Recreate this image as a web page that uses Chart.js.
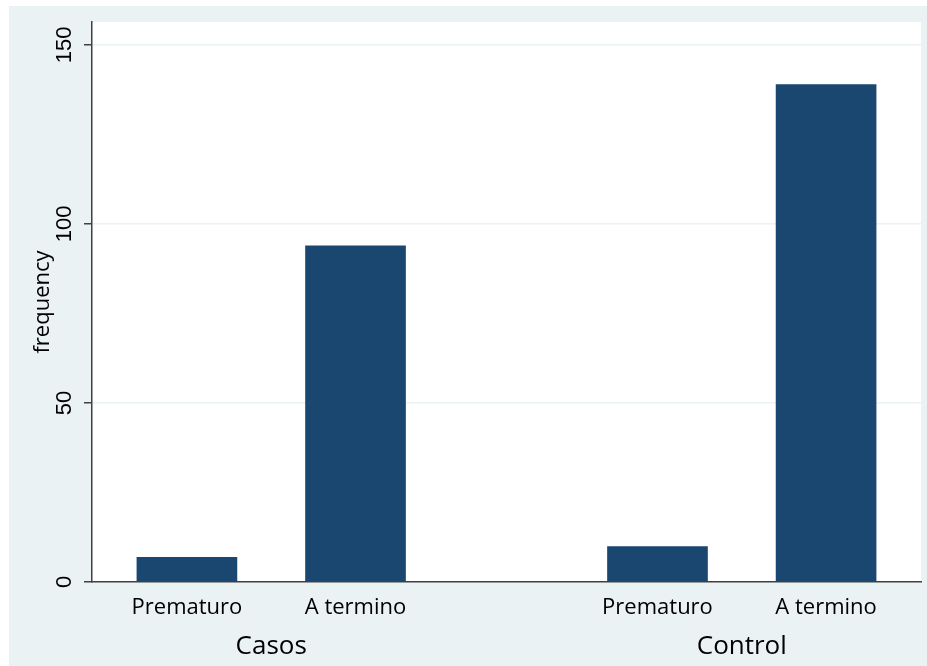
<!DOCTYPE html>
<html>
<head>
<meta charset="utf-8">
<script src="https://cdn.jsdelivr.net/npm/chart.js@4"></script>
<style>
  html, body { margin: 0; padding: 0; background: #ffffff; }
  #wrap { width: 927px; height: 666px; position: relative; }
</style>
</head>
<body>
<div id="wrap"><canvas id="chart" width="927" height="666"></canvas></div>
<script>
// Frequency of term vs preterm births, by study group
const groups = ['Casos', 'Control'];
const categories = ['Prematuro', 'A termino'];
const casosValues = [7, 94];
const controlValues = [10, 139];
const yTicks = [0, 50, 100, 150];
const yTop = 156.4;

// Bar layout, in units of one bar width
const outerGap = 0.443;
const innerGap = 0.675;
const groupGap = 2;

const values = [...casosValues, ...controlValues];
const tickLabels = groups.flatMap(() => categories);

const barPositions = [];
const groupCenters = [];
let cursor = outerGap;
groups.forEach((g, gi) => {
  const first = barPositions.length;
  categories.forEach((c, ci) => {
    barPositions.push(cursor + 0.5);
    cursor += 1 + (ci < categories.length - 1 ? innerGap : 0);
  });
  groupCenters.push((barPositions[first] + barPositions[barPositions.length - 1]) / 2);
  if (gi < groups.length - 1) cursor += groupGap;
});
const xMax = cursor + outerGap;

const NAVY = '#1a476f';
const REGION = '#eaf2f3';
const AXIS = '#404040';

// Grey outer region with a white plot area
const backdrop = {
  id: 'backdrop',
  beforeDraw(chart) {
    const { ctx, chartArea: a, width, height } = chart;
    ctx.save();
    ctx.fillStyle = '#ffffff';
    ctx.fillRect(0, 0, width, height);
    ctx.fillStyle = REGION;
    ctx.fillRect(9, 6, width - 9, height - 6);
    ctx.fillStyle = '#ffffff';
    ctx.fillRect(a.left, a.top, a.right - a.left, a.bottom - a.top);
    ctx.restore();
  }
};

Chart.defaults.font.family = "'Open Sans', 'Liberation Sans', Arial, sans-serif";
Chart.defaults.color = '#000000';

new Chart(document.getElementById('chart'), {
  type: 'bar',
  data: {
    datasets: [{
      data: barPositions.map((x, i) => ({ x, y: values[i] })),
      backgroundColor: NAVY,
      borderWidth: 0,
      barPercentage: 1 / (1 + innerGap),
      categoryPercentage: 1
    }]
  },
  options: {
    responsive: false,
    animation: false,
    events: [],
    layout: { padding: { top: 22, right: 6, bottom: 0, left: 0 } },
    plugins: { legend: { display: false }, tooltip: { enabled: false } },
    scales: {
      x: {
        type: 'linear',
        position: 'bottom',
        weight: 0,
        min: 0,
        max: xMax,
        offset: false,
        grid: { display: false },
        border: { display: true, color: AXIS, width: 1.5 },
        ticks: {
          autoSkip: false,
          maxRotation: 0,
          minRotation: 0,
          padding: 5,
          font: { size: 22 },
          callback: (v, i) => tickLabels[i]
        },
        afterBuildTicks: s => { s.ticks = barPositions.map(v => ({ value: v })); },
        afterFit: s => { s.height = 40; }
      },
      groupAxis: {
        type: 'linear',
        position: 'bottom',
        weight: 1,
        min: 0,
        max: xMax,
        offset: false,
        grid: { display: false },
        border: { display: false },
        ticks: {
          autoSkip: false,
          maxRotation: 0,
          minRotation: 0,
          padding: 1,
          font: { size: 26 },
          callback: (v, i) => groups[i]
        },
        afterBuildTicks: s => { s.ticks = groupCenters.map(v => ({ value: v })); },
        afterFit: s => { s.height = 44; }
      },
      y: {
        min: 0,
        max: yTop,
        grid: {
          color: REGION,
          lineWidth: 1.5,
          tickColor: AXIS,
          tickWidth: 1.5,
          tickLength: 8
        },
        border: { display: true, color: AXIS, width: 1.5 },
        ticks: {
          autoSkip: false,
          minRotation: 90,
          maxRotation: 90,
          crossAlign: 'center',
          padding: 1,
          font: { family: "'Liberation Sans', Arial, sans-serif", size: 22 }
        },
        afterBuildTicks: s => { s.ticks = yTicks.map(v => ({ value: v })); },
        title: {
          display: true,
          text: 'frequency',
          font: { size: 22 },
          padding: { top: 30, bottom: 0 }
        },
        afterFit: s => { s.width = 92; }
      }
    }
  },
  plugins: [backdrop]
});
</script>
</body>
</html>
